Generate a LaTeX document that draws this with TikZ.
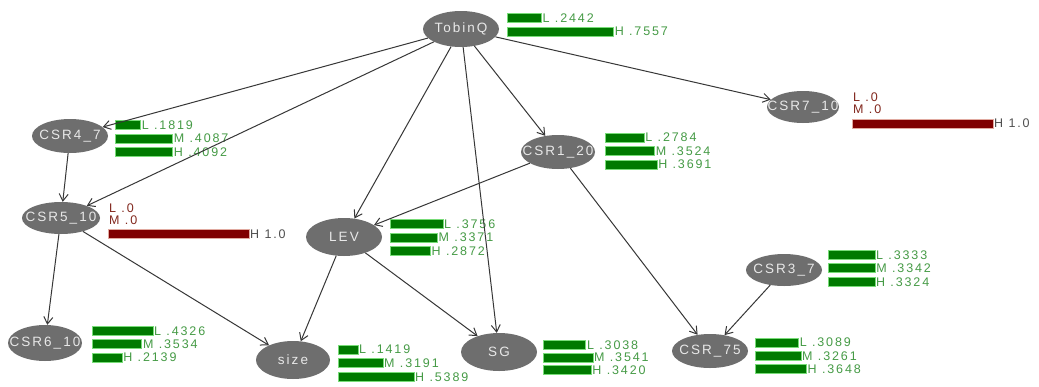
\documentclass[tikz,border=0pt]{standalone}
\usepackage{fontspec}
\setmainfont{Liberation Sans}
\newfontfamily\wlab[LetterSpace=15]{Liberation Sans}
\usetikzlibrary{shapes.geometric,arrows.meta}
\definecolor{nodegray}{RGB}{110,110,110}
\definecolor{nodetext}{RGB}{232,232,232}
\definecolor{edgecol}{RGB}{55,55,55}
\definecolor{bargreen}{RGB}{0,122,0}
\definecolor{barlight}{RGB}{120,220,120}
\definecolor{txtgreen}{RGB}{70,155,70}
\definecolor{barred}{RGB}{128,0,0}
\definecolor{barpink}{RGB}{225,170,160}
\definecolor{txtred}{RGB}{130,40,30}
\definecolor{txtgray}{RGB}{80,80,80}
\tikzset{
 ell/.style={ellipse, fill=nodegray, inner sep=0pt, minimum width=76, minimum height=34},
 lbl/.style={path picture={\node[text=nodetext,font=\wlab\fontsize{13.5}{15}\selectfont] at (path picture bounding box.center) {#1};}},
 edge/.style={draw=edgecol, line width=1pt, -{Straight Barb[length=7pt,width=9pt,line width=1pt]}},
 gbar/.style={fill=bargreen, draw=barlight, line width=0.7pt},
 rbar/.style={fill=barred, draw=barpink, line width=0.7pt},
 gtxt/.style={text=txtgreen, font=\wlab\fontsize{12.5}{12.5}\selectfont, inner sep=1pt, anchor=west},
 rtxt/.style={text=txtred, font=\wlab\fontsize{12.5}{12.5}\selectfont, inner sep=1pt, anchor=west},
 htxt/.style={text=txtgray, font=\wlab\fontsize{12.5}{12.5}\selectfont, inner sep=1pt, anchor=west},
}
% name, x, y, fraction, text
\newcommand\gb[5]{\draw[gbar] (#2,#3-4.5) rectangle ({#2+141*#4},#3+4.5);
  \node[gtxt] (#1) at ({#2+141*#4},#3) {#5};}
\newcommand\rb[5]{\draw[rbar] (#2,#3-4.5) rectangle ({#2+141*#4},#3+4.5);
  \node[htxt] (#1) at ({#2+141*#4},#3) {#5};}
\begin{document}
\begin{tikzpicture}[x=1pt,y=-1pt]
\fill[white] (0,0) rectangle (1039,386);
\useasboundingbox (0,0) rectangle (1039,386);
% nodes
\node[ell, minimum height=36, lbl={TobinQ}] (TQ) at (461,29) {};
\node[ell, lbl={CSR4\_7}] (C4) at (70,136) {};
\node[ell, minimum height=32, minimum width=78, lbl={CSR5\_10}] (C5) at (61,218) {};
\node[ell, minimum width=74, lbl={CSR1\_20}] (C1) at (558,152) {};
\node[ell, minimum width=72, minimum height=32, lbl={CSR7\_10}] (C7) at (803,107) {};
\node[ell, minimum height=38, lbl={LEV}] (LEV) at (344,237) {};
\node[ell, minimum height=32, lbl={CSR3\_7}] (C3) at (784,270) {};
\node[ell, minimum width=74, minimum height=36, lbl={CSR6\_10}] (C6) at (45,343) {};
\node[ell, minimum width=74, minimum height=38, lbl={size}] (SZ) at (293,360) {};
\node[ell, minimum height=38, lbl={SG}] (SG) at (499,352) {};
\node[ell, minimum width=76, lbl={CSR\_75}] (C75) at (710,351) {};
% bars
\gb{tqL}{507}{18}{.2442}{L .2442}
\gb{tqH}{507}{31.5}{.7557}{H .7557}
\gb{c4L}{115}{125}{.1819}{L .1819}
\gb{c4M}{115}{138.5}{.4087}{M .4087}
\gb{c4H}{115}{152}{.4092}{H .4092}
\node[rtxt] (c5L) at (108,208) {L .0};
\node[rtxt] (c5M) at (108,220) {M .0};
\rb{c5H}{108}{234}{1}{H 1.0}
\node[rtxt] (c7L) at (852,97) {L .0};
\node[rtxt] (c7M) at (852,109) {M .0};
\rb{c7H}{852}{123.5}{1}{H 1.0}
\gb{c1L}{605}{137.5}{.2784}{L .2784}
\gb{c1M}{605}{151}{.3524}{M .3524}
\gb{c1H}{605}{164.5}{.3691}{H .3691}
\gb{lvL}{390}{224}{.3756}{L .3756}
\gb{lvM}{390}{237.5}{.3371}{M .3371}
\gb{lvH}{390}{251}{.2872}{H .2872}
\gb{c3L}{828}{255}{.3333}{L .3333}
\gb{c3M}{828}{268}{.3342}{M .3342}
\gb{c3H}{828}{282}{.3324}{H .3324}
\gb{c6L}{92}{331}{.4326}{L .4326}
\gb{c6M}{92}{344}{.3534}{M .3534}
\gb{c6H}{92}{357.5}{.2139}{H .2139}
\gb{szL}{338}{349.5}{.1419}{L .1419}
\gb{szM}{338}{363}{.3191}{M .3191}
\gb{szH}{338}{377}{.5389}{H .5389}
\gb{sgL}{543}{345}{.3038}{L .3038}
\gb{sgM}{543}{357.5}{.3541}{M .3541}
\gb{sgH}{543}{370}{.3420}{H .3420}
\gb{c75L}{755}{342.5}{.3089}{L .3089}
\gb{c75M}{755}{356}{.3261}{M .3261}
\gb{c75H}{755}{369}{.3648}{H .3648}
% edges
\draw[edge] (TQ) -- (C4);
\draw[edge] (TQ) -- (C5);
\draw[edge] (TQ) -- (LEV);
\draw[edge] (TQ) -- (SG);
\draw[edge] (TQ) -- (C1);
\draw[edge] (TQ) -- (C7);
\draw[edge] (C4) -- (C5);
\draw[edge] (C5) -- (C6);
\draw[edge] (C5) -- (SZ);
\draw[edge] (C1) -- (LEV);
\draw[edge] (C1) -- (C75);
\draw[edge] (LEV) -- (SZ);
\draw[edge] (LEV) -- (SG);
\draw[edge] (C3) -- (C75);
\end{tikzpicture}
\end{document}
